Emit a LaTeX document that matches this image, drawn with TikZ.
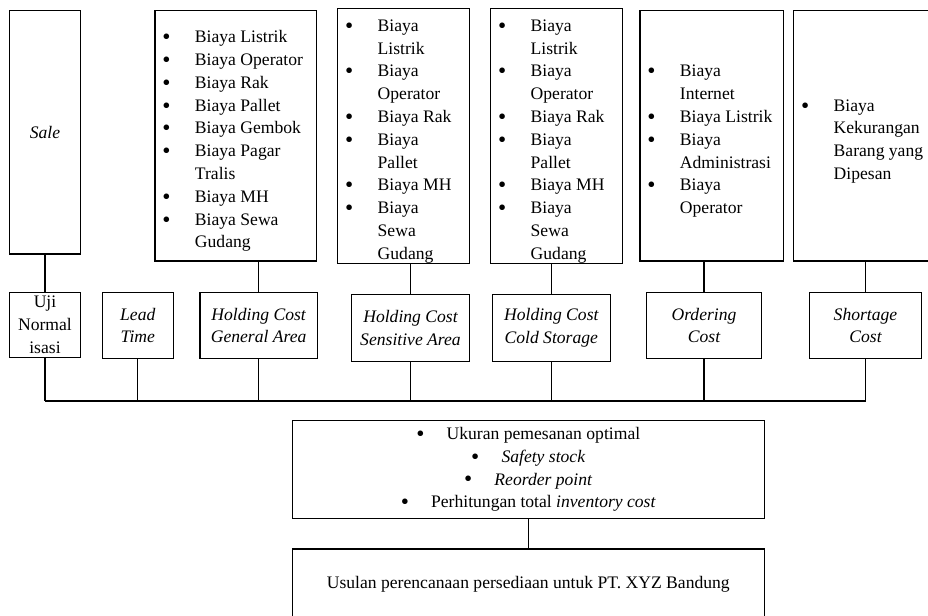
\documentclass[tikz,border=0pt]{standalone}
\usepackage{fontspec}
\setmainfont{Liberation Serif}
\newcommand{\lst}{\leftskip=30pt\rightskip=0pt plus 1fil\parfillskip=0pt plus 1fil\spaceskip=0pt\xspaceskip=0pt}
\newcommand{\bigbul}{\raisebox{-1.4pt}{\fontsize{17.5}{17.5}\selectfont\textbullet}}
\newcommand{\itm}{\par\leavevmode\llap{\bigbul\hspace{18.3pt}}}
\newcommand{\blt}{\bigbul\hspace{16.6pt}}

\begin{document}
\begin{tikzpicture}[x=0.75pt, y=-0.75pt, line width=0.8pt,
		box/.style={draw, inner sep=0pt, align=center, font=\fontsize{13.2}{17.1}\selectfont},
		listbox/.style={draw, inner sep=0pt, align=left, text width=#1, minimum height=187.7pt, font=\fontsize{13.2}{17.1}\selectfont},
		costbox/.style={box, minimum width=#1, minimum height=49.8pt, font=\fontsize{13.2}{17.1}\selectfont\itshape}]
	\useasboundingbox (0, 0) rectangle (928, 615);

	% top row
	\node[box, minimum width=53.55pt, minimum height=182.5pt] (sale) at (45, 132.35) {\textit{Sale}};
	\node[listbox=121.3pt] (genlist) at (235.85, 135.85) {\lst
		\itm Biaya Listrik \itm Biaya Operator \itm Biaya Rak \itm Biaya Pallet
		\itm Biaya Gembok \itm Biaya Pagar\\Tralis \itm Biaya MH \itm Biaya Sewa\\Gudang\par};
	\node[listbox=98.7pt] (senslist) at (403.5, 135.85) {\lst
		\itm Biaya\\Listrik \itm Biaya\\Operator \itm Biaya Rak \itm Biaya\\Pallet
		\itm Biaya MH \itm Biaya\\Sewa\\Gudang\par};
	\node[listbox=99pt] (coldlist) at (556.7, 135.85) {\lst
		\itm Biaya\\Listrik \itm Biaya\\Operator \itm Biaya Rak \itm Biaya\\Pallet
		\itm Biaya MH \itm Biaya\\Sewa\\Gudang\par};
	\node[listbox=107.5pt] (ordlist) at (711.65, 135.85) {\lst
		\itm Biaya\\Internet \itm Biaya Listrik \itm Biaya\\Administrasi \itm Biaya\\Operator\par};
	\node[listbox=103.7pt] (shortlist) at (862.85, 135.85) {\lst
		\itm Biaya\\Kekurangan\\Barang yang\\Dipesan\par};

	% middle row
	\node[box, minimum width=53.55pt, minimum height=49pt] (uji) at (45, 325) {Uji\\Normal\\isasi};
	\node[costbox=53.25pt] (lead) at (137.8, 325.5) {Lead\\Time};
	\node[costbox=88pt] (hcgen) at (258.65, 325.5) {Holding Cost\\General Area};
	\node[costbox=88.2pt] (hcsens) at (410.5, 327.85) {Holding Cost\\Sensitive Area};
	\node[costbox=88.5pt] (hccold) at (551.3, 328) {Holding Cost\\Cold Storage};
	\node[costbox=86.55pt] (ordcost) at (704, 325.5) {Ordering\\Cost};
	\node[costbox=84.3pt] (shortcost) at (865.5, 325.5) {Shortage\\Cost};

	% bottom
	\node[box, minimum width=354pt, minimum height=73.2pt] (output) at (528.3, 469.5)
		{\blt Ukuran pemesanan optimal\\ \blt\textit{Safety stock}\\ \blt\textit{Reorder point}\\
		\blt Perhitungan total \textit{inventory cost}};
	\node[box, minimum width=354pt, minimum height=52.5pt] (usulan) at (528.3, 584)
		{Usulan perencanaan persediaan untuk PT. XYZ Bandung};

	\coordinate (bus) at (0, 401);

	\draw (uji.north) -- (uji.north |- sale.south);
	\draw (hcgen.north) -- (hcgen.north |- genlist.south);
	\draw (hcsens.north) -- (hcsens.north |- senslist.south);
	\draw (hccold.north) -- (hccold.north |- coldlist.south);
	\draw (ordcost.north) -- (ordcost.north |- ordlist.south);
	\draw (shortcost.north) -- (shortcost.north |- shortlist.south);

	\foreach \n in {uji, lead, hcgen, hcsens, hccold, ordcost, shortcost}
		\draw (\n.south) -- (\n.south |- bus);
	\draw (uji.south |- bus) -- (shortcost.south |- bus);

	\draw (output.south) -- (usulan.north);
\end{tikzpicture}
\end{document}
